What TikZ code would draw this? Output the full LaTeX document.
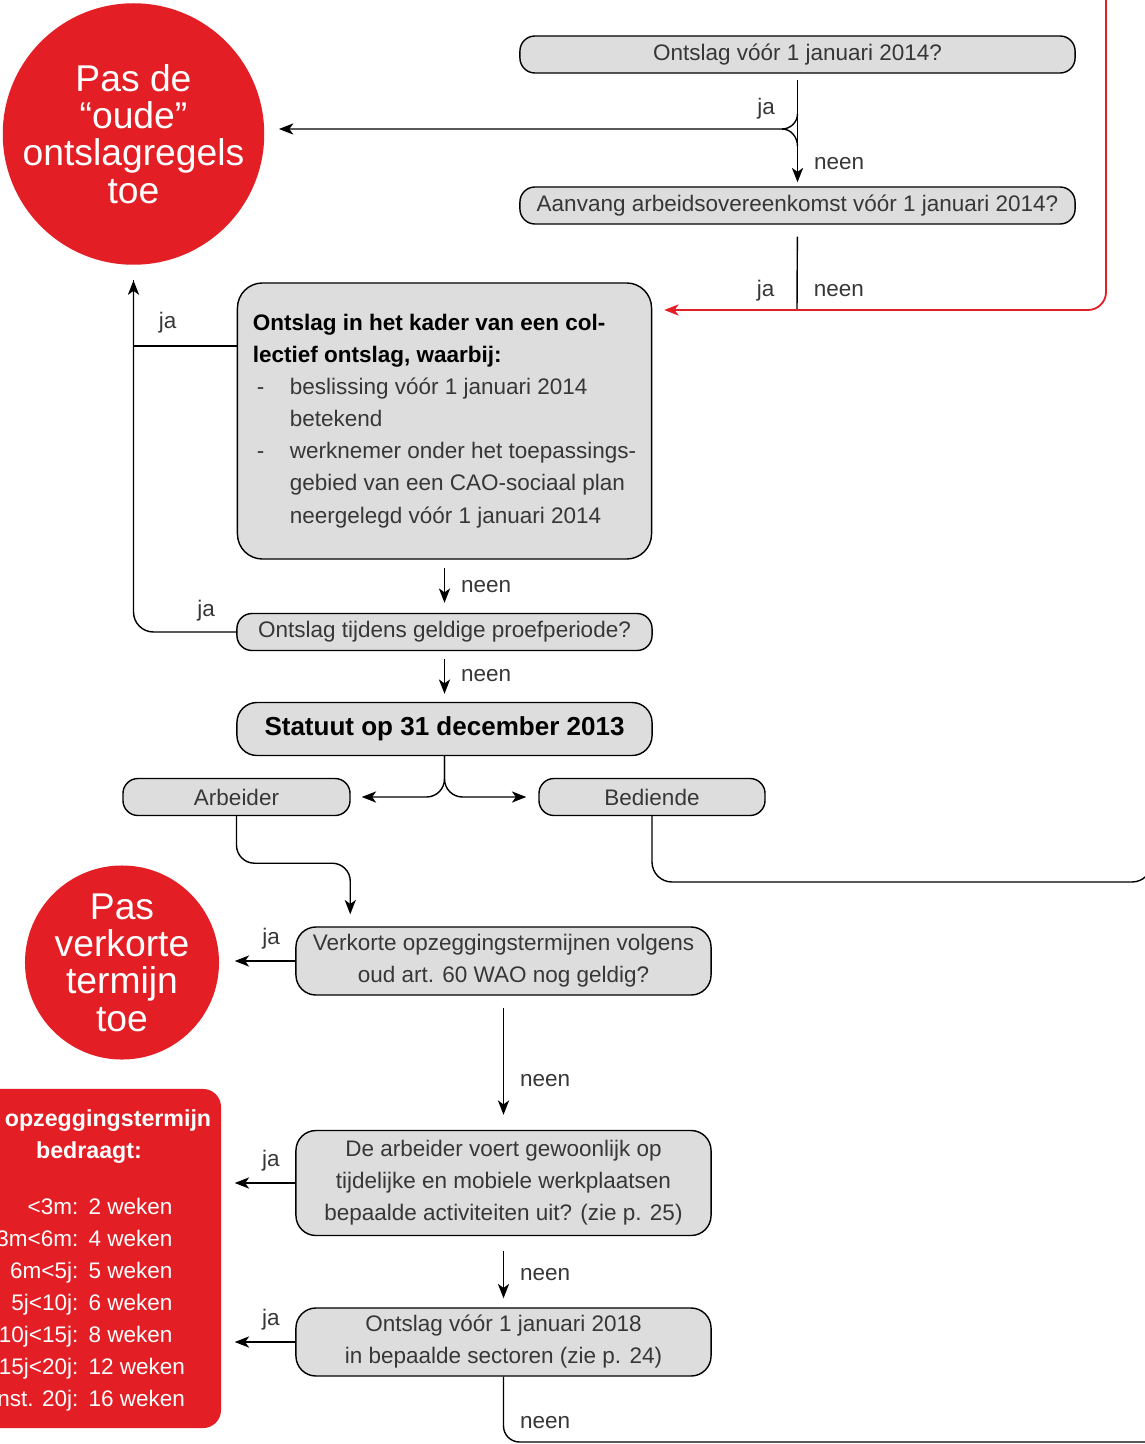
\documentclass[tikz,border=0pt]{standalone}
\usepackage{fontspec}
\usetikzlibrary{arrows.meta}
\setmainfont{Liberation Sans}
\definecolor{rood}{RGB}{227,30,36}
\definecolor{grijs}{RGB}{221,221,221}
\definecolor{tekst}{RGB}{55,55,55}
\newcommand{\streep}{\makebox[0.925cm][l]{\hspace{0.1cm}-}}
\newcommand{\inspring}{\hspace*{0.925cm}}

\begin{document}
\begin{tikzpicture}[x=0.025cm,y=-0.025cm,>={Stealth[length=0.36cm,width=0.28cm,inset=0.1cm]},line width=1pt,
        vraag/.style={draw, rectangle, rounded corners=0.375cm, fill=grijs, text=tekst, inner sep=0pt, align=center, font=\fontsize{16}{22.8}\selectfont},
        rondje/.style={circle, fill=rood, text=white, inner sep=0pt, align=center, font=\fontsize{26.5}{26.5}\selectfont},
        lbl/.style={text=tekst, inner sep=0pt, font=\fontsize{16}{19}\selectfont},
        wit/.style={text=white, inner sep=0pt, font=\fontsize{16}{19}\selectfont}]
        \useasboundingbox (0,0) rectangle (1144,1444);

        \node (oude) [rondje, minimum size=6.425cm] at (133.5,134) {Pas de\\“oude”\\ontslagregels\\toe};
        \node (v2014) [vraag, minimum width=13.875cm, minimum height=0.925cm] at (797.5,54.5) {Ontslag vóór 1 januari 2014?};
        \node (aanvang) [vraag, minimum width=13.875cm, minimum height=0.925cm] at (797.5,205.5) {Aanvang arbeidsovereenkomst vóór 1 januari 2014?};
        \node (collectief) [vraag, rounded corners=0.625cm, align=left, minimum width=10.35cm, minimum height=6.9cm] at (444.5,421) {\textcolor{black}{\textbf{Ontslag in het kader van een col-}}\\
            \textcolor{black}{\textbf{lectief ontslag, waarbij:}}\\
            \streep beslissing vóór 1 januari 2014\\
            \inspring betekend\\
            \streep werknemer onder het toepassings-\\
            \inspring gebied van een CAO-sociaal plan\\
            \inspring neergelegd vóór 1 januari 2014};
        \node (proef) [vraag, minimum width=10.375cm, minimum height=0.925cm] at (444.5,632) {Ontslag tijdens geldige proefperiode?};
        \node (statuut) [vraag, rounded corners=0.5cm, text=black, font=\fontsize{18.5}{22}\selectfont\bfseries, minimum width=10.375cm, minimum height=1.325cm] at (444.5,729) {Statuut op 31 december 2013};
        \node (arbeider) [vraag, minimum width=5.675cm, minimum height=0.925cm] at (236.5,797) {Arbeider};
        \node (bediende) [vraag, minimum width=5.65cm, minimum height=0.925cm] at (652,797) {Bediende};
        \node (verkort) [rondje, minimum size=4.85cm] at (122,962.5) {Pas\\verkorte\\termijn\\toe};
        \node (wao) [vraag, rounded corners=0.5cm, minimum width=10.375cm, minimum height=1.7cm] at (503.5,961) {Verkorte opzeggingstermijnen volgens\\oud art. 60 WAO nog geldig?};
        \node (werkplaats) [vraag, rounded corners=0.5cm, minimum width=10.375cm, minimum height=2.625cm] at (503.5,1183) {De arbeider voert gewoonlijk op\\tijdelijke en mobiele werkplaatsen\\bepaalde activiteiten uit? (zie p. 25)};
        \node (sector) [vraag, rounded corners=0.5cm, minimum width=10.375cm, minimum height=1.7cm] at (503.5,1342) {Ontslag vóór 1 januari 2018\\in bepaalde sectoren (zie p. 24)};
        \node (termijn) [rectangle, fill=rood, rounded corners=0.45cm, minimum width=6.025cm, minimum height=8.475cm] at (100.5,1258.5) {};
        \node (kop1) [wit, font=\fontsize{16.5}{19}\selectfont\bfseries] at (108,1121) {opzeggingstermijn};
        \node (kop2) [wit, font=\fontsize{16.5}{19}\selectfont\bfseries] at (89,1153) {bedraagt:};
        \foreach \duur/\weken [count=\i from 0] in {<3m/2, 3m<6m/4, 6m<5j/5, 5j<10j/6, 10j<15j/8, 15j<20j/12, nst. 20j/16} {
            \node (duur\i) [wit, anchor=base east] at (79,{1214+32*\i}) {\duur:};
            \node (weken\i) [wit, anchor=base west] at (88,{1214+32*\i}) {\weken{} weken};
        }

        \coordinate (knik1) at (782,129);
        \coordinate (rood1) at (797,310);
        \coordinate (boven) at (1106,-20);
        \coordinate (hoek2) at (1152,882);
        \coordinate (rand2) at (1152,800);
        \coordinate (onder) at (1160,1442);

        \draw[->, shorten <=0.15cm, shorten >=0.1cm] (v2014) -- node[pos=0.31, left=0.55cm, lbl] {ja} node[pos=0.8, right=0.4cm, lbl] {neen} (aanvang);
        \draw[->, shorten >=0.35cm] ([yshift=-1cm]v2014.south) to[out=-90,in=0] (knik1) -- (oude.east |- knik1);
        \draw (knik1) to[out=0,in=90] ([yshift=1cm]aanvang.north);
        \draw[shorten <=0.3cm] (aanvang) -- node[pos=0.77, left=0.55cm, lbl] {ja} node[pos=0.77, right=0.4cm, lbl] {neen} (rood1);
        \draw[->, rood, line width=1.3pt, rounded corners=0.45cm] (boven) |- ([xshift=0.3cm]collectief.east |- rood1);
        \draw[shorten >=0.375cm] ([yshift=1.875cm]collectief.west) -| node[pos=0.335, above=0.3cm, lbl] {ja} (oude.south);
        \draw[->, shorten >=0.375cm, rounded corners=0.5cm] (proef.west) -| node[pos=0.146, above=0.25cm, lbl] {ja} (oude.south);
        \draw[->, shorten <=0.2cm, shorten >=0.25cm] (collectief) -- node[right=0.4cm, lbl] {neen} (proef);
        \draw[->, shorten <=0.2cm, shorten >=0.2cm] (proef) -- node[pos=0.48, right=0.4cm, lbl] {neen} (statuut);
        \draw[->, rounded corners=0.45cm, shorten >=0.275cm] (statuut.south) |- (arbeider.east);
        \draw[->, rounded corners=0.45cm, shorten >=0.3cm] (statuut.south) |- (bediende.west);
        \draw[->, rounded corners=0.45cm, shorten >=0.3cm] (arbeider.south) -- ++(0,47) -| ([xshift=1.375cm]wao.north west);
        \draw[rounded corners=0.5cm] (bediende.south) |- (hoek2) -- (rand2);
        \draw[->, shorten >=0.375cm] (wao.west) -- node[pos=0.32, above=0.275cm, lbl] {ja} (verkort.east |- wao.west);
        \draw[->, shorten <=0.3cm, shorten >=0.375cm] (wao) -- node[pos=0.63, right=0.4cm, lbl] {neen} (werkplaats);
        \draw[->, shorten >=0.325cm] (werkplaats.west) -- node[pos=0.33, above=0.275cm, lbl] {ja} (termijn.east |- werkplaats.west);
        \draw[->, shorten <=0.375cm, shorten >=0.225cm] (werkplaats) -- node[pos=0.54, right=0.4cm, lbl] {neen} (sector);
        \draw[->, shorten >=0.325cm] (sector.west) -- node[pos=0.33, above=0.275cm, lbl] {ja} (termijn.east |- sector.west);
        \draw[rounded corners=0.4cm] (sector.south) |- node[pos=0.35, right=0.4cm, lbl] {neen} (onder);
    \end{tikzpicture}
\end{document}
